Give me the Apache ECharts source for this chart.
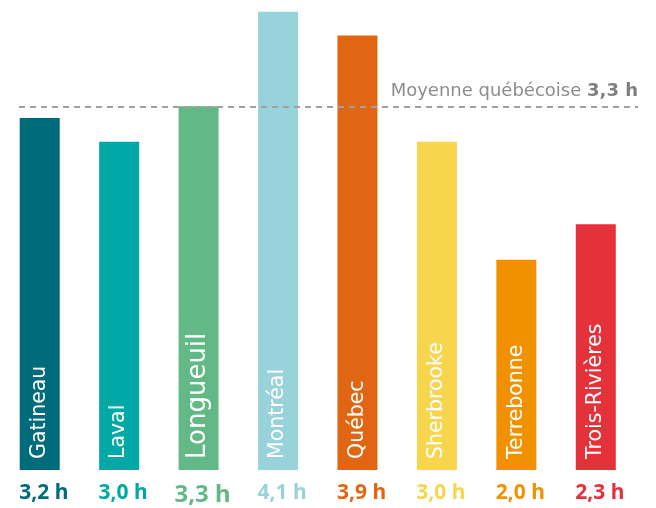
<!DOCTYPE html>
<html>
<head>
<meta charset="utf-8">
<script src="https://cdn.jsdelivr.net/npm/echarts@6/dist/echarts.min.js"></script>
<style>
  html, body { margin: 0; padding: 0; background: #fff; }
  #chart { width: 656px; height: 508px; }
</style>
</head>
<body>
<div id="chart"></div>
<script>
// données
const cities = ['Gatineau', 'Laval', 'Longueuil', 'Montréal', 'Québec', 'Sherbrooke', 'Terrebonne', 'Trois-Rivières']
const hours = [3.2, 3.0, 3.3, 4.1, 3.9, 3.0, 2.0, 2.3]
const colors = ['#006b7a', '#00a9a5', '#63b985', '#98d3db', '#e16613', '#f7d54c', '#f29100', '#e4313a']
const average = 3.3
const averageText = 'Moyenne québécoise'
const highlight = 2 // Longueuil

const fmt = v => v.toFixed(1).replace('.', ',') + ' h'

const font = 'DejaVu Sans'

const rich = {}
colors.forEach((c, i) => {
  rich['c' + i] = {
    color: c,
    fontFamily: 'Noto Sans',
    fontWeight: 'bold',
    fontSize: i === highlight ? 24 : 21,
    padding: [0, 0, 0, 8]
  }
})

const chart = echarts.init(document.getElementById('chart'))

chart.setOption({
  animation: false,
  grid: { left: 0, right: 20.5, top: 0, bottom: 38 },
  xAxis: {
    type: 'category',
    data: cities,
    axisLine: { show: false },
    axisTick: { show: false },
    axisLabel: {
      interval: 0,
      margin: 13,
      formatter: (val, idx) => '{c' + idx + '|' + fmt(hours[idx]) + '}',
      rich: rich
    }
  },
  yAxis: {
    type: 'value',
    min: 0.22,
    max: 4.2,
    show: false,
    splitLine: { show: false }
  },
  series: [
    {
      type: 'bar',
      barWidth: 40,
      data: hours.map((v, i) => ({
        value: v,
        itemStyle: { color: colors[i] },
        label: { fontSize: i === highlight ? 26 : 20.5 }
      })),
      label: {
        show: true,
        position: 'insideBottom',
        rotate: 90,
        align: 'left',
        verticalAlign: 'middle',
        distance: 11,
        color: '#fff',
        fontFamily: font,
        formatter: p => cities[p.dataIndex]
      },
      markLine: {
        silent: true,
        symbol: ['none', 'none'],
        lineStyle: { color: '#a0a0a0', type: [6, 5], width: 2 },
        label: {
          position: 'insideEndTop',
          distance: [0, 6],
          color: '#8c8c8c',
          fontFamily: font,
          fontSize: 18,
          formatter: averageText + ' {b|' + fmt(average) + '}',
          rich: {
            b: { color: '#7f7f7f', fontFamily: font, fontSize: 18, fontWeight: 'bold' }
          }
        },
        data: [[{ x: 19, yAxis: average }, { x: 638, yAxis: average }]]
      }
    }
  ]
})
</script>
</body>
</html>
